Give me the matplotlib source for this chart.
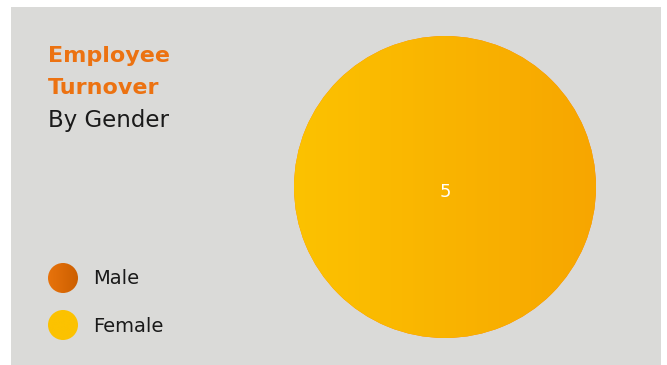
import matplotlib.pyplot as plt
import numpy as np
from matplotlib.colors import LinearSegmentedColormap
from matplotlib.patches import Circle, Rectangle

labels = ['Male', 'Female']
values = [0, 5]
grad_colors = [('#E8730C', '#CC5F00'), ('#FCC200', '#F7A600')]

plt.rcParams['font.family'] = ['DejaVu Sans']

W, H = 667, 365
fig = plt.figure(figsize=(W / 100, H / 100), dpi=100)
fig.patch.set_facecolor('white')
fig.patches.append(Rectangle((11 / W, 0), 650 / W, 358 / H, transform=fig.transFigure,
                             facecolor='#DADAD8', edgecolor='none', zorder=-1))

# pie
cx, cy, r = 445, 187, 151
ax = fig.add_axes([(cx - r) / W, (H - cy - r) / H, 2 * r / W, 2 * r / H])
wedges, _ = ax.pie(values, radius=1, startangle=90, counterclock=False,
                   wedgeprops=dict(linewidth=0))
grad = np.linspace(0, 1, 256).reshape(1, -1)
for w, v, (c0, c1) in zip(wedges, values, grad_colors):
    if v == 0:
        continue
    cmap = LinearSegmentedColormap.from_list('g', [c0, c1])
    im = ax.imshow(grad, cmap=cmap, extent=[-1, 1, -1, 1], aspect='auto', zorder=2)
    im.set_clip_path(w)
    ang = np.deg2rad((w.theta1 + w.theta2) / 2)
    tx, ty = (0, -0.03) if v == sum(values) else (0.6 * np.cos(ang), 0.6 * np.sin(ang))
    ax.text(tx, ty, str(v), color='white', fontsize=13, ha='center', va='center', zorder=3)
ax.set_xlim(-1, 1)
ax.set_ylim(-1, 1)
ax.axis('off')

# title
fig.text(48 / W, 1 - 56 / H, 'Employee', color='#EC7211', fontsize=16, fontweight='bold', va='center')
fig.text(48 / W, 1 - 88 / H, 'Turnover', color='#EC7211', fontsize=16, fontweight='bold', va='center')
fig.text(48 / W, 1 - 120 / H, 'By Gender', color='#1A1A1A', fontsize=16.5, va='center')

# legend
lax = fig.add_axes([0, 0, 1, 1])
lax.set_xlim(0, W)
lax.set_ylim(H, 0)
lax.axis('off')
for i, (lab, (c0, c1)) in enumerate(zip(labels, grad_colors)):
    y = 278 + i * 47
    circ = Circle((63, y), 15, facecolor='none', edgecolor='none')
    lax.add_patch(circ)
    cmap = LinearSegmentedColormap.from_list('g', [c0, c1] if i == 0 else [c0, c0])
    im = lax.imshow(grad, cmap=cmap, extent=[48, 78, y + 15, y - 15], aspect='auto')
    im.set_clip_path(circ)
    lax.text(93, y + 1, lab, fontsize=14, color='#1A1A1A', va='center')
lax.set_xlim(0, W)
lax.set_ylim(H, 0)

fig.savefig('out.png', dpi=100)
